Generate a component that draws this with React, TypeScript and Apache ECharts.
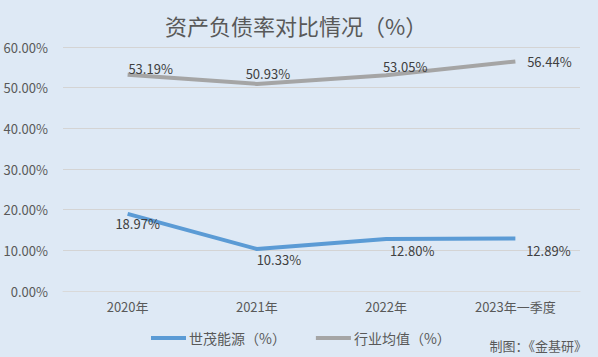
import React, { useEffect, useRef } from "react";
import * as echarts from "echarts";

const categories = ["2020年", "2021年", "2022年", "2023年一季度"];
const shimaoValues = [18.97, 10.33, 12.8, 12.89];
const industryValues = [53.19, 50.93, 53.05, 56.44];
const seriesNames = ["世茂能源（%）", "行业均值（%）"];
const titleText = "资产负债率对比情况（%）";
const captionText = "制图：《金基研》";

const font = "'Noto Sans CJK SC', 'Noto Sans', sans-serif";

export default function App() {
  const ref = useRef<HTMLDivElement>(null);
  useEffect(() => {
    if (!ref.current) return;
    const chart = echarts.init(ref.current, undefined, { renderer: "svg" });
    const blueOffsets = [[10, -1], [22, 0], [26, 1], [33, 1]];
    const grayOffsets = [[23, 4.5], [11, 0], [19, 2], [34, 11]];
    chart.setOption({
      animation: false,
      backgroundColor: "#dee9f5",
      textStyle: { fontFamily: font },
      title: {
        text: titleText,
        left: 291,
        top: 9,
        textAlign: "center",
        textStyle: { fontSize: 22, fontWeight: "normal", color: "#595959", fontFamily: font },
      },
      legend: {
        bottom: 12,
        left: 151,
        padding: 0,
        itemWidth: 35,
        itemHeight: 4,
        itemGap: 30,
        icon: "rect",
        textStyle: { fontSize: 14, color: "#595959", fontFamily: font, padding: [0, 0, 0, -2] },
        data: seriesNames,
      },
      graphic: [
        {
          type: "text",
          right: 11,
          top: 339,
          style: { text: captionText, fontSize: 13, fill: "#595959", fontFamily: font },
        },
      ],
      grid: { left: 63, right: 18, top: 47, bottom: 66 },
      xAxis: {
        type: "category",
        data: categories,
        boundaryGap: true,
        axisLine: { show: true, lineStyle: { color: "#d9d9d9" } },
        axisTick: { show: false },
        axisLabel: { fontSize: 13, color: "#595959", margin: 9, fontFamily: font },
      },
      yAxis: {
        type: "value",
        min: 0,
        max: 60,
        interval: 10,
        axisLine: { show: false },
        axisTick: { show: false },
        splitLine: { lineStyle: { color: "#d4d4d4" } },
        axisLabel: {
          fontSize: 13,
          color: "#595959",
          margin: 15,
          fontFamily: font,
          formatter: (v: number) => v.toFixed(2) + "%",
        },
      },
      series: [
        {
          name: seriesNames[0],
          type: "line",
          data: shimaoValues.map((v, i) => ({
            value: v,
            label: { offset: blueOffsets[i] },
          })),
          symbol: "circle",
          symbolSize: 0,
          showSymbol: true,
          lineStyle: { width: 4, color: "#5b9bd5" },
          itemStyle: { color: "#5b9bd5" },
          label: {
            show: true,
            position: "bottom",
            distance: 4,
            fontSize: 13,
            color: "#404040",
            fontFamily: font,
            formatter: (p: any) => Number(p.value).toFixed(2) + "%",
          },
        },
        {
          name: seriesNames[1],
          type: "line",
          data: industryValues.map((v, i) => ({
            value: v,
            label: { offset: grayOffsets[i] },
          })),
          symbol: "circle",
          symbolSize: 0,
          showSymbol: true,
          lineStyle: { width: 4, color: "#a5a5a5" },
          itemStyle: { color: "#a5a5a5" },
          label: {
            show: true,
            position: "top",
            distance: 4,
            fontSize: 13,
            color: "#404040",
            fontFamily: font,
            formatter: (p: any) => Number(p.value).toFixed(2) + "%",
          },
        },
      ],
    });
    return () => chart.dispose();
  }, []);
  return <div ref={ref} style={{ width: 598, height: 357, position: "absolute", left: 0, top: 0 }} />;
}
